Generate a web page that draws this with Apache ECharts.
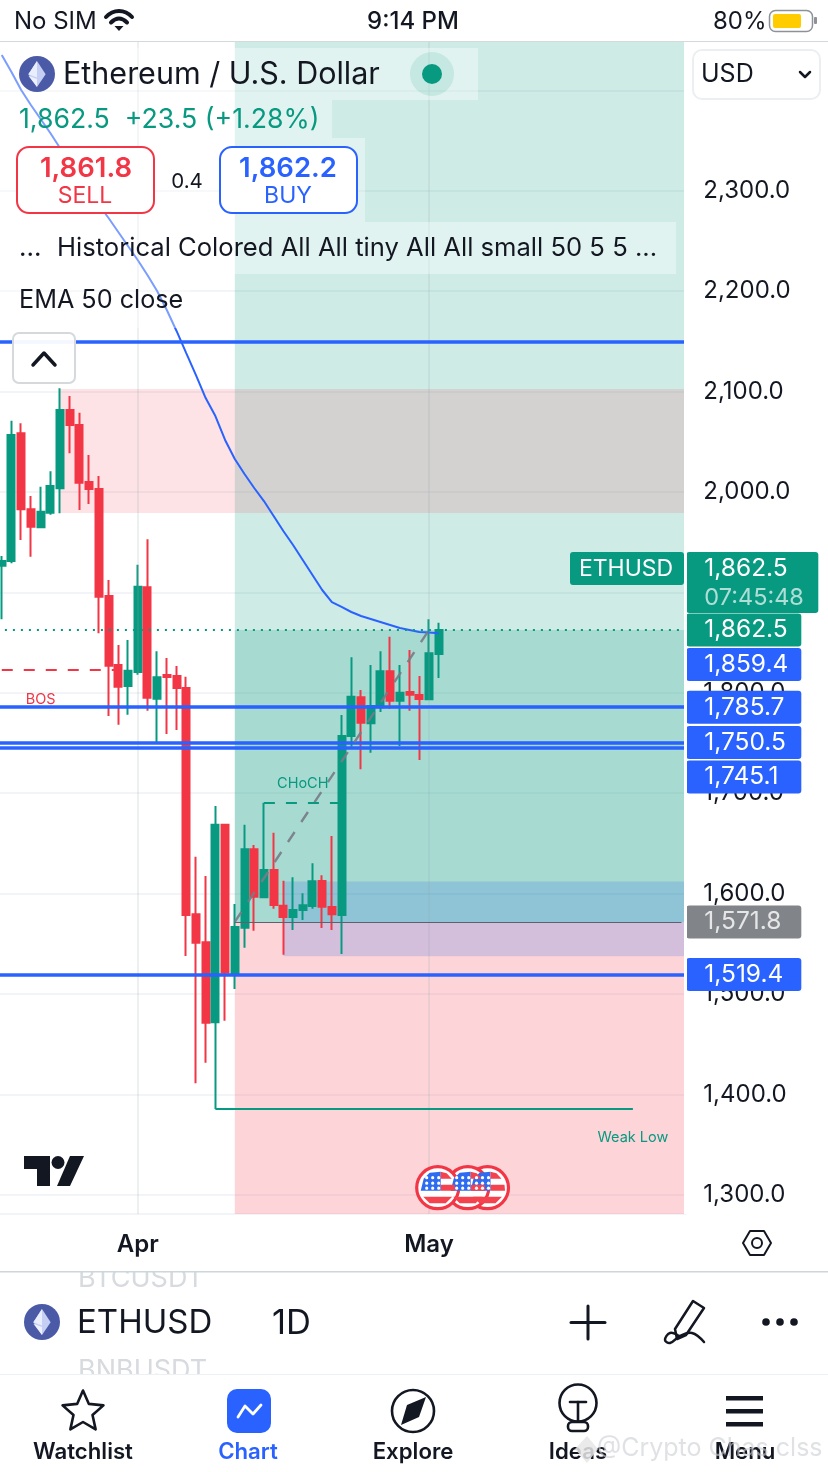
<!DOCTYPE html>
<html><head><meta charset="utf-8">
<style>html,body{margin:0;padding:0;background:#fff}#c{width:828px;height:1472px}</style>
<script src="https://cdn.jsdelivr.net/npm/echarts@6/dist/echarts.min.js"></script>
</head><body><div id="c"></div>
<script>
const categories = ['Mar 18','Mar 19','Mar 20','Mar 21','Mar 22','Mar 23','Mar 24','Mar 25','Mar 26','Mar 27','Mar 28','Mar 29','Mar 30','Mar 31',
'Apr 1','Apr 2','Apr 3','Apr 4','Apr 5','Apr 6','Apr 7','Apr 8','Apr 9','Apr 10','Apr 11','Apr 12','Apr 13','Apr 14','Apr 15','Apr 16','Apr 17','Apr 18','Apr 19','Apr 20','Apr 21','Apr 22','Apr 23','Apr 24','Apr 25','Apr 26','Apr 27','Apr 28','Apr 29','Apr 30',
'May 1','May 2','May 3','May 4','May 5','May 6','May 7','May 8','May 9','May 10','May 11','May 12','May 13','May 14','May 15','May 16','May 17','May 18','May 19','May 20','May 21','May 22','May 23','May 24','May 25','May 26','May 27'];
// open, close, low, high
const ohlc = [
[1926.6,1931.3,1873.2,1936.3],[1931.3,2056.8,1929,2071],[2058.5,1982.8,1952.2,2068.4],[1982.8,1965.4,1935.6,1996],
[1964.8,1980.4,1964.8,2005.3],[1979.4,2006,1977.4,2020.6],[2003.7,2081.7,1978.8,2103.3],[2081.7,2066.7,2038.5,2095.6],
[2066.7,2009.3,1982.1,2079],[2010,2003,1988,2036.9],[2003,1895.7,1859.3,2015.9],[1896.4,1827,1776.9,1912.4],
[1827.7,1806.1,1768.2,1847.6],[1806.8,1822,1778.2,1852.6],[1820.7,1905.7,1818,1927.6],[1905.1,1795.1,1782.2,1952.9],
[1794.1,1815.4,1750.3,1841.3],[1817.7,1815.7,1759,1834.7],[1816.7,1804.8,1763,1826.7],[1804.8,1578.7,1537.9,1816],
[1579.4,1551.1,1411.1,1636.8],[1551.5,1471.4,1431.6,1617.5],[1471.8,1668.6,1385.5,1687.3],[1668.6,1521.2,1473.4,1668.6],
[1520.6,1566.7,1505,1589.6],[1566,1644.1,1546.1,1668.6],[1644.1,1596.9,1563.1,1648.4],[1596.3,1623.5,1595.3,1690.5],
[1623.5,1588.6,1585,1660.7],[1588,1576.7,1539.1,1612.9],[1576.7,1583.7,1563.7,1616.2],[1583.7,1588.3,1573.7,1600.3],
[1587.7,1612.3,1585,1630.2],[1612.6,1587,1565.7,1618.2],[1586.7,1579.4,1563.7,1657.4],[1578.7,1757,1539.8,1777.9],
[1757,1796.1,1746.3,1835.4],[1795.5,1770.2,1723.8,1802.8],[1769.6,1786.9,1740.3,1827.7],[1785.6,1821.4,1780.9,1841.3],
[1821.4,1792.1,1784.2,1855.9],[1792.1,1800.1,1747,1827.7],[1800.8,1798.1,1782.2,1842.6],[1797.8,1793.8,1733.1,1816.7],
[1793.5,1839.3,1793.5,1873.2],[1838.6,1862.5,1814.7,1869.8]];
const emaValues = [2435.3,2418.3,2400.4,2385.5,2371.5,2357.6,2342.6,2328.7,2314.7,2299.8,2285.9,2272.9,2259,2245,2231.1,2216.1,2200.2,2181.3,2160.4,2138.4,2116.5,2093.6,2075.7,2051.8,2032.9,2017.9,2004,1991,1976.1,1961.2,1947.2,1932.3,1917.3,1902.4,1890.4,1885.5,1880.5,1876.5,1873.5,1870.5,1867.5,1864.5,1862.6,1860.6,1860.1,1859.4];
const blueLevels = [2149.2,1785.7,1750.5,1745.1,1519.4];
const lastPrice = 1862.5;
const entryPrice = 1571.8;
const priceMin = 1280.9, priceMax = 2449.2;
const supplyZone = {from:'Mar 24', low:1979, high:2102.6};
const demandZone = {from:'Apr 16', low:1537.5, high:1612};
const positionStart = 'Apr 11', tradeEnd = 'May 1';
const bosLine = {from:'Mar 18', to:'Mar 30', price:1822.7};
const chochLine = {from:'Apr 14', to:'Apr 22', price:1690.5};
const weakLow = {from:'Apr 9', to:'May 22', price:1385.5};
const verticals = ['Apr 1','May 1'];
const chartNotes = [['BOS','Mar 22',1792.8],['CHoCH','Apr 18',1709.2],['Weak Low','May 22',1356.6]];
const priceTags = [
 {text:'1,862.5\n07:45:48', at:1909.9, kind:'count'},
 {text:'1,862.5', at:1862.5, kind:'green'},
 {text:'1,859.4', at:1828.2, kind:'blue'},
 {text:'1,785.7', at:1785.7, kind:'blue'},
 {text:'1,750.5', at:1750.5, kind:'blue'},
 {text:'1,745.1', at:1716.1, kind:'blue'},
 {text:'1,571.8', at:1571.8, kind:'gray'},
 {text:'1,519.4', at:1519.4, kind:'blue'}];

const FONT='Inter, "Noto Sans", sans-serif', GREEN='#089981', RED='#f23645', BLUE='#2962ff', INK='#131722';
const g=[];
function T(text,x,y,size,fill,o){o=o||{};g.push({type:'text',z:o.z||60,silent:true,style:{text,x,y:y+1.5,fontSize:size,fontFamily:FONT,fontWeight:o.w||400,fill,align:o.a||'left',verticalAlign:'middle',opacity:o.op==null?1:o.op}});}
function R(x,y,w,h,fill,o){o=o||{};g.push({type:'rect',z:o.z||55,silent:true,shape:{x,y,width:w,height:h,r:o.r||0},style:{fill,stroke:o.s||null,lineWidth:o.lw||0}});}
function C(cx,cy,r,fill,o){o=o||{};g.push({type:'circle',z:o.z||55,silent:true,shape:{cx,cy,r},style:{fill,stroke:o.s||null,lineWidth:o.lw||0}});}
function P(points,fill,o){o=o||{};g.push({type:'polygon',z:o.z||56,silent:true,shape:{points},style:{fill,stroke:o.s||null,lineWidth:o.lw||0,lineJoin:'round'}});}
function L(points,stroke,lw,o){o=o||{};g.push({type:'polyline',z:o.z||56,silent:true,shape:{points,smooth:o.smooth||0},style:{fill:null,stroke,lineWidth:lw,lineCap:'round',lineJoin:'round'}});}

// status bar
R(0,0,828,41,'#fff',{z:40}); R(0,41,828,1,'#d6d9dc',{z:41});
T('No SIM',14,20,24,INK);
L([[106,17],[112,12.5],[119,11],[126,12.5],[132,17]],INK,4,{smooth:0.5}); L([[111,22.5],[119,18.5],[127,22.5]],INK,4,{smooth:0.5}); P([[114.5,26],[123.5,26],[119,31]],INK);
T('9:14 PM',413,20,24,INK,{a:'center',w:500});
T('80%',713,20,24,INK);
R(769.5,10.5,43,21,'#fff',{r:6,s:'#8e9297',lw:1.5}); R(773,14,28,14,'#ffcc00',{r:2}); R(814,17,3,7,'#8e9297',{r:1});
// right scale edge
R(684,41,3,1173,'#fff',{z:9});
// header strips
const STRIP='rgba(255,255,255,0.38)';
R(0,48,478,52,STRIP,{z:45}); R(0,100,332,38,STRIP,{z:45}); R(0,138,365,84,STRIP,{z:45}); R(0,222,676,52,STRIP,{z:45}); R(0,274,190,54,STRIP,{z:45});
function ethIcon(cx,cy,r){C(cx,cy,r,'#4b5aa6');P([[cx,cy-r*0.72],[cx+r*0.48,cy+r*0.02],[cx,cy+r*0.72],[cx-r*0.48,cy+r*0.02]],'#c4cff3');P([[cx,cy-r*0.72],[cx-r*0.48,cy+r*0.02],[cx,cy+r*0.2]],'#e9eefc');P([[cx-r*0.48,cy+r*0.1],[cx,cy+r*0.72],[cx,cy+r*0.28]],'#eef1fd');}
ethIcon(37,74,18);
T('Ethereum / U.S. Dollar',63,73,30.5,INK);
C(432,74,22,'rgba(8,153,129,0.13)'); C(432,74,10,GREEN);
T('1,862.5  +23.5 (+1.28%)',19,118,26.7,GREEN);
R(17,147,137,66,'#fff',{r:12,s:RED,lw:2});
T('1,861.8',86,167,27.5,RED,{a:'center',w:600}); T('SELL',85,195,23,RED,{a:'center'});
T('0.4',187,180,20.5,INK,{a:'center'});
R(220,147,137,66,'#fff',{r:12,s:BLUE,lw:2});
T('1,862.2',288,167,27.5,BLUE,{a:'center',w:600}); T('BUY',288,195,23,BLUE,{a:'center'});
T('...',19,247,26,INK);
T('Historical Colored All All tiny All All small 50 5 5 ...',57,247,25.6,INK);
T('EMA 50 close',19,299,25.2,INK);
R(13,333,62,50,'rgba(255,255,255,0.95)',{r:6,s:'#d5d9dc',lw:2});
L([[33,365],[44,353],[55,365]],INK,3.5);
R(693,50,127,49,'#fff',{r:9,s:'#eceff2',lw:2});
T('USD',701,73,25,INK);
L([[800,72],[805,77],[810,72]],INK,2.5);
// TradingView mark
P([[24,1156],[50,1156],[50,1186],[37,1186],[37,1169],[24,1169]],INK); C(58,1162.5,6.5,INK); P([[70,1156],[84,1156],[70,1186],[57,1186]],INK);
// event flags
function flag(cx,cy){const r=21;C(cx,cy,r,'#fff',{s:'#f23645',lw:3.2,z:52});
 P([[cx+3,cy-3],[cx+r-4,cy-3],[cx+r-3.5,cy+3],[cx+3,cy+3]],'#f5424f',{z:53});
 P([[cx-14.5,cy+9],[cx+14.5,cy+9],[cx+8,cy+15.5],[cx-8,cy+15.5]],'#f5424f',{z:53});
 P([[cx-14,cy-9],[cx-8,cy-15],[cx+3,cy-16],[cx+3,cy+3],[cx-17,cy+3]],'#2d6cf0',{z:53});
 P([[cx+3,cy-16],[cx+9,cy-14.5],[cx+14,cy-9],[cx+3,cy-9]],'#f5424f',{z:53});
 for(const dx of[-11,-5,1])for(const dy of[-10,-4.5,0.5])C(cx+dx,cy+dy,1.6,'#fff',{z:54});}
flag(487.5,1187.7);flag(467.7,1187.7);flag(437.7,1187.7);
// settings hexagon
P([[743,1243],[750,1231],[764,1231],[771,1243],[764,1255],[750,1255]],'#fff',{s:INK,lw:2});C(757,1243,5,'#fff',{s:INK,lw:2,z:57});
// instrument strip
T('BTCUSDT',78,1277,27,'#d7dade');R(0,1260,828,11,'#fff',{z:61});R(0,1271,828,1.5,'#ccd6db',{z:62});
T('BNBUSDT',78,1369,27,'#d7dade');R(0,1374,828,98,'#fff',{z:61});R(0,1374,828,1,'#eef1f3',{z:62});
ethIcon(42,1322,18);
T('ETHUSD',77,1322,33,INK);T('1D',272,1322,34.5,INK);
L([[588,1306],[588,1339]],INK,3);L([[571,1322.5],[605,1322.5]],INK,3);
P([[693,1301],[704,1308],[686,1335],[677,1339],[675,1329]],'#fff',{s:INK,lw:2.5});
L([[679,1336],[670,1333],[665,1340],[670,1343],[680,1336],[692,1333],[704,1342]],INK,2.5,{smooth:0.4});
C(766,1322,3.8,INK);C(780,1322,3.8,INK);C(794,1322,3.8,INK);
// tab bar
const ZT=65;
const star=[];for(let i=0;i<10;i++){const a=-Math.PI/2+i*Math.PI/5,r=i%2?10:21.5;star.push([83+r*Math.cos(a),1412+r*Math.sin(a)]);}
P(star,'#fff',{s:INK,lw:2.6,z:ZT});
R(227,1389,44,44,BLUE,{r:10,z:ZT});L([[238,1417],[245,1406],[253,1414],[261,1405]],'#fff',2.8,{z:ZT+1});
C(413,1411,21,'#fff',{s:INK,lw:2.6,z:ZT});P([[426,1397],[419,1417],[401,1425],[407,1405]],INK,{z:ZT+1});
C(578,1403,18.5,'#fff',{s:INK,lw:2.6,z:ZT});L([[570,1402],[586,1402]],INK,2.6,{z:ZT+1});L([[578,1402],[578,1421]],INK,2.6,{z:ZT+1});R(568,1422,20,9,'#fff',{r:4,s:INK,lw:2.6,z:ZT});
R(726,1396,37,4.5,INK,{z:ZT});R(726,1409,37,4.5,INK,{z:ZT});R(726,1422,37,4.5,INK,{z:ZT});
[['Watchlist',83,INK],['Chart',248,BLUE],['Explore',413,INK],['Ideas',578,INK],['Menu',745,INK]].forEach(t=>T(t[0],t[1],1451,22.2,t[2],{a:'center',w:600,z:ZT}));
P([[587,1436],[598,1449],[587,1463],[575,1449]],'rgba(230,230,232,0.85)',{z:ZT+2});
T('@Crypto Chas clss',597,1447,25,'rgba(205,207,212,0.62)',{z:ZT+3});
// ETHUSD badge
R(570,552,114,33,GREEN,{r:3,z:30});T('ETHUSD',626,567.5,23,'#fff',{a:'center',z:31});

const tagStyle={blue:BLUE,green:GREEN,gray:'rgba(112,115,120,0.88)',count:GREEN};
const tagLines=priceTags.map(t=>{
 const two=t.kind==='count';
 return {yAxis:t.at,lineStyle:{color:'rgba(0,0,0,0)',width:0},label:{show:true,position:'end',distance:0,align:'left',
  formatter:two?'{a|1,862.5}\n{b|07:45:48}':t.text,
  width:two?114:97,padding:two?[2,0,2,18]:[0,0,0,18],lineHeight:33,height:two?57:33,
  backgroundColor:tagStyle[t.kind],borderRadius:3,color:t.kind==='gray'?'rgba(255,255,255,0.8)':'#fff',fontFamily:FONT,fontSize:24.5,
  rich:{a:{color:'#fff',fontFamily:FONT,fontSize:24.5,lineHeight:30},b:{color:'rgba(255,255,255,0.68)',fontFamily:FONT,fontSize:23.5,lineHeight:27}}}};
});
const area=(from,lo,hi,color)=>[{xAxis:from,yAxis:lo,itemStyle:{color}},hi==null?{}:{yAxis:hi}];
const opt={
 animation:false,
 textStyle:{fontFamily:FONT},
 grid:{left:-3.1,top:41,width:689.41,height:1173,containLabel:false,outerBoundsMode:'none'},
 xAxis:{type:'category',data:categories,boundaryGap:true,axisLine:{show:false},axisTick:{show:false},splitLine:{show:false},
  axisLabel:{interval:0,margin:19,fontFamily:FONT,fontSize:24,fontWeight:600,color:INK,hideOverlap:false,
   formatter:v=>v==='Apr 1'?'Apr':v==='May 1'?'May':''}},
 yAxis:{type:'value',position:'right',min:priceMin,max:priceMax,splitNumber:12,minInterval:100,maxInterval:100,scale:true,
  axisLine:{show:false},axisTick:{show:false},
  splitLine:{show:true,lineStyle:{color:'#eef1f4',width:1.5}},
  axisLabel:{show:true,align:'left',margin:17,showMinLabel:false,showMaxLabel:false,fontFamily:FONT,fontSize:24,color:INK,padding:[0,0,8,0],
   formatter:v=>v>=2400?'':v.toLocaleString('en-US',{minimumFractionDigits:1,maximumFractionDigits:1})}},
 graphic:{elements:g},
 series:[
  {name:'zones',type:'line',data:[],z:1,silent:true,
   markArea:{silent:true,data:[
    area(positionStart,entryPrice,null,'rgba(8,153,129,0.2)'),
    area(positionStart,entryPrice,lastPrice,'rgba(8,153,129,0.2)'),
    area(positionStart,priceMin,entryPrice,'rgba(245,45,65,0.2)'),
    area(supplyZone.from,supplyZone.low,supplyZone.high,'rgba(242,54,69,0.14)'),
    area(demandZone.from,demandZone.low,demandZone.high,'rgba(41,100,230,0.2)')]},
   markLine:{silent:true,symbol:'none',label:{show:false},
    lineStyle:{color:'rgba(150,165,175,0.22)',width:1.5,type:'solid'},
    data:verticals.map(v=>({xAxis:v}))}},
  {name:'levels',type:'line',data:[],z:2,silent:true,
   markLine:{silent:true,symbol:'none',label:{show:false},lineStyle:{type:'solid'},data:[
    ...blueLevels.map(v=>({yAxis:v,lineStyle:{color:BLUE,width:3.5}})),
    {yAxis:lastPrice,lineStyle:{color:GREEN,width:2,type:[2,6]}},
    [{coord:[positionStart,entryPrice],lineStyle:{color:'#5e6070',width:1.2}},{coord:[categories[70],entryPrice]}],
    [{coord:[positionStart,entryPrice],lineStyle:{color:'rgba(120,123,134,0.9)',width:2.4,type:[12,12]}},{coord:[tradeEnd,lastPrice]}],
    [{coord:[bosLine.from,bosLine.price],lineStyle:{color:RED,width:2,type:[11,11]}},{coord:[bosLine.to,bosLine.price]}],
    [{coord:[chochLine.from,chochLine.price],lineStyle:{color:GREEN,width:2,type:[11,11]}},{coord:[chochLine.to,chochLine.price]}],
    [{coord:[weakLow.from,weakLow.price],lineStyle:{color:GREEN,width:2}},{coord:[weakLow.to,weakLow.price]}]
   ]}},
  {name:'ETHUSD',type:'candlestick',data:ohlc,z:3,barWidth:7.5,silent:true,
   itemStyle:{color:GREEN,color0:RED,borderColor:GREEN,borderColor0:RED,borderWidth:2,borderColorDoji:RED}},
  {name:'EMA 50 close',type:'line',data:emaValues,z:4,showSymbol:false,silent:true,lineStyle:{color:BLUE,width:2}},
  {name:'notes',type:'line',data:[],z:5,silent:true,
   markPoint:{silent:true,symbol:'circle',symbolSize:0,
    label:{show:true,position:'inside',fontFamily:FONT,fontSize:14.5},
    data:chartNotes.map(n=>({coord:[n[1],n[2]],value:n[0],label:{formatter:n[0],color:n[0]==='BOS'?RED:GREEN}}))}},
  {name:'tags',type:'line',data:[],z:20,silent:true,
   markLine:{silent:true,symbol:'none',data:tagLines}}
 ]};
const chart=echarts.init(document.getElementById('c'),null,{width:828,height:1472});
chart.setOption(opt);
</script></body></html>
